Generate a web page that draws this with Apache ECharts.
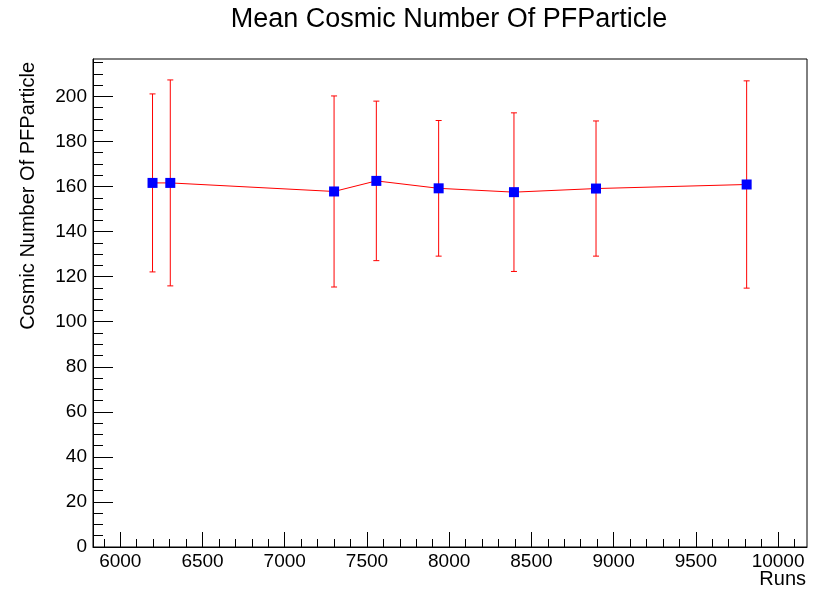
<!DOCTYPE html>
<html>
<head>
<meta charset="utf-8">
<script src="https://cdn.jsdelivr.net/npm/echarts@6/dist/echarts.min.js"></script>
<style>
html,body{margin:0;padding:0;background:#fff;}
#chart{width:817px;height:589px;}
</style>
</head>
<body>
<div id="chart"></div>
<script>
// ---- data ----
const runs = [6196, 6304, 7300, 7557, 7936, 8394, 8893, 9809];
const meanValues = [161.6, 161.6, 157.8, 162.5, 159.2, 157.5, 159.1, 160.9];
const errorValues = [39.5, 45.7, 42.4, 35.4, 30.1, 35.2, 30.0, 46.0];
const xMajorTicks = [6000, 6500, 7000, 7500, 8000, 8500, 9000, 9500, 10000];
const yMajorTicks = [0, 20, 40, 60, 80, 100, 120, 140, 160, 180, 200];
const titleText = 'Mean Cosmic Number Of PFParticle';
const xTitle = 'Runs';
const yTitle = 'Cosmic Number Of PFParticle';

// ---- derived ----
const xMin = 5834, xMax = 10176, yMin = 0, yMax = 216.6;
const xMinorTicks = [];
for (let v = 5900; v <= 10100; v += 100) xMinorTicks.push(v);
const yMinorTicks = [];
for (let v = 0; v <= 215; v += 5) yMinorTicks.push(v);

const points = runs.map((r, i) => [r, meanValues[i]]);
const errData = runs.map((r, i) => [r, meanValues[i] - errorValues[i], meanValues[i] + errorValues[i]]);

const font = 'Liberation Sans, Arial, Helvetica, sans-serif';
const black = '#000';

const chart = echarts.init(document.getElementById('chart'), null, {renderer: 'canvas'});
const gridDef = {left: 93, top: 59, width: 714, height: 488, show: true, borderColor: black, borderWidth: 1, backgroundColor: '#fff'};

function baseX(extra) {
  return Object.assign({
    type: 'value', min: xMin, max: xMax, gridIndex: 0, position: 'bottom',
    splitLine: {show: false},
    axisLine: {show: true, onZero: false, lineStyle: {color: black, width: 1}},
  }, extra);
}
function baseY(extra) {
  return Object.assign({
    type: 'value', min: yMin, max: yMax, gridIndex: 0, position: 'left',
    splitLine: {show: false},
    axisLine: {show: true, onZero: false, lineStyle: {color: black, width: 1}},
  }, extra);
}

const option = {
  backgroundColor: '#fff',
  animation: false,
  grid: gridDef,
  xAxis: [
    baseX({
      axisTick: {show: true, inside: true, length: 15, customValues: xMajorTicks, lineStyle: {color: black}},
      axisLabel: {show: true, customValues: xMajorTicks, margin: 5, fontFamily: font, fontSize: 19, color: black,
                  formatter: v => String(v)}
    }),
    baseX({
      axisLine: {show: false},
      axisTick: {show: true, inside: true, length: 8, customValues: xMinorTicks, lineStyle: {color: black}},
      axisLabel: {show: false}
    })
  ],
  yAxis: [
    baseY({
      axisTick: {show: true, inside: true, length: 20, customValues: yMajorTicks, lineStyle: {color: black}},
      axisLabel: {show: true, customValues: yMajorTicks, margin: 6, fontFamily: font, fontSize: 19, color: black,
                  formatter: v => String(v)}
    }),
    baseY({
      axisLine: {show: false},
      axisTick: {show: true, inside: true, length: 10, customValues: yMinorTicks, lineStyle: {color: black}},
      axisLabel: {show: false}
    })
  ],
  graphic: [
    {type: 'text', x: 449, y: 20, style: {text: titleText, font: '27px ' + font, fill: black, textAlign: 'center', textVerticalAlign: 'middle'}},
    {type: 'text', right: 11, top: 569, style: {text: xTitle, font: '20px ' + font, fill: black}},
    {type: 'text', x: 38, y: 62, rotation: Math.PI / 2,
     style: {text: yTitle, font: '20px ' + font, fill: black, textAlign: 'right', textVerticalAlign: 'bottom'}}
  ],
  series: [
    {
      type: 'custom', xAxisIndex: 0, yAxisIndex: 0, z: 1,
      data: errData,
      renderItem: function (params, api) {
        const x = api.value(0);
        const lo = api.coord([x, api.value(1)]);
        const hi = api.coord([x, api.value(2)]);
        const cap = 3;
        const st = {stroke: '#ff0000', lineWidth: 1};
        return {
          type: 'group',
          children: [
            {type: 'line', shape: {x1: lo[0], y1: lo[1], x2: hi[0], y2: hi[1]}, style: st},
            {type: 'line', shape: {x1: lo[0] - cap, y1: lo[1], x2: lo[0] + cap, y2: lo[1]}, style: st},
            {type: 'line', shape: {x1: hi[0] - cap, y1: hi[1], x2: hi[0] + cap, y2: hi[1]}, style: st}
          ]
        };
      }
    },
    {
      type: 'line', xAxisIndex: 0, yAxisIndex: 0, z: 3,
      data: points,
      symbol: 'rect', symbolSize: 10, showAllSymbol: true,
      itemStyle: {color: '#0000ff'},
      lineStyle: {color: '#ff0000', width: 1},
      emphasis: {disabled: true}
    }
  ]
};
chart.setOption(option);
</script>
</body>
</html>
